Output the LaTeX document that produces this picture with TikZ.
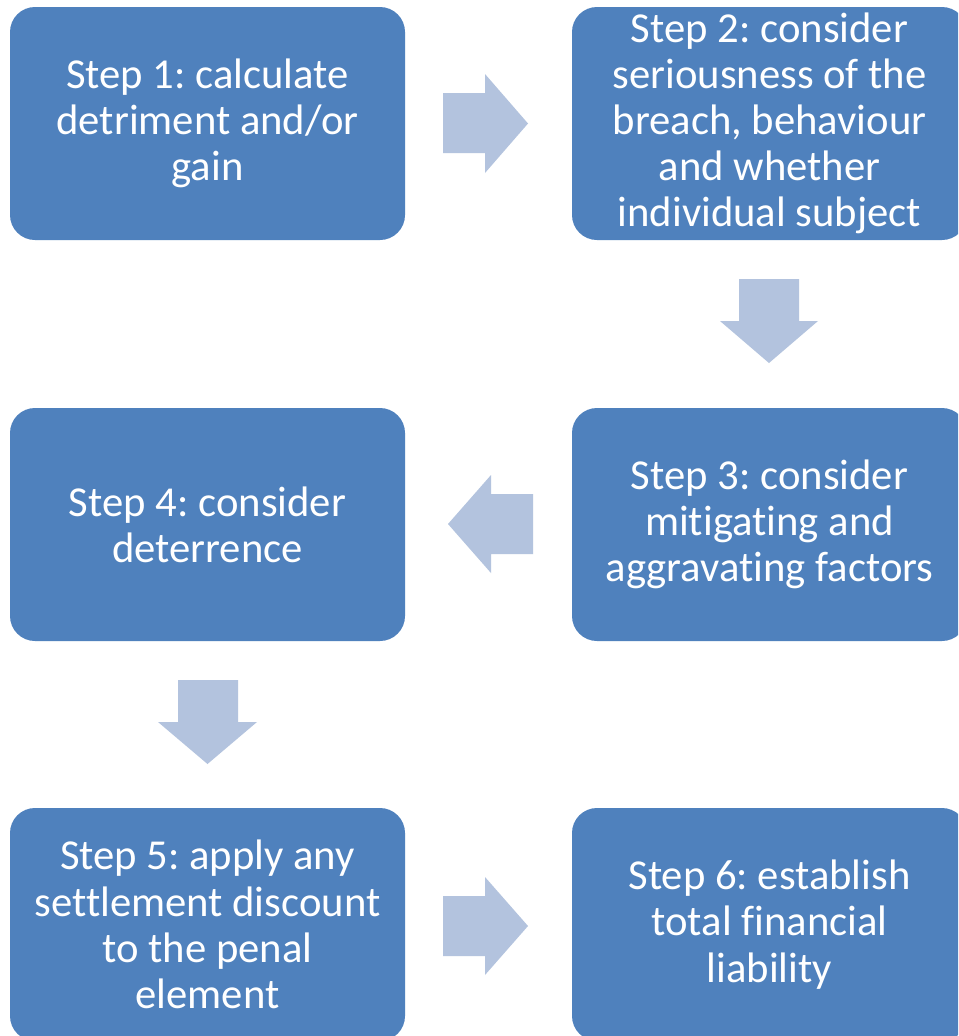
\documentclass[tikz,border=0pt]{standalone}
\usepackage{fontspec}
\setmainfont[Ligatures=NoCommon]{Carlito}
\frenchspacing
\definecolor{boxblue}{HTML}{4F81BD}
\definecolor{arrowblue}{HTML}{B3C3DE}
\begin{document}
\begin{tikzpicture}[x=0.75pt,y=-0.75pt,
  stepbox/.style={fill=boxblue, draw=none, rounded corners=18.75pt,
    minimum width=296.25pt, minimum height=174.75pt, inner sep=0pt,
    text=white, align=center, font=\fontsize{32}{34.6}\selectfont},
  blockarrow/.style={fill=arrowblue, draw=none}]
\useasboundingbox (0,0) rectangle (958,1036);
\clip (0,0) rectangle (958,1036);
\fill[white] (0,0) rectangle (958,1036);
\node[stepbox] (s1) at (207.5,123.5) {Step 1: calculate\\detriment and/or\\gain};
\node[stepbox] (s2) at (769.5,123.5) {Step 2: consider\\seriousness of the\\breach, behaviour\\and whether\\individual subject};
\node[stepbox] (s3) at (769.5,524.5) {Step 3: consider\\mitigating and\\aggravating factors};
\node[stepbox] (s4) at (207.5,524.5) {Step 4: consider\\deterrence};
\node[stepbox] (s5) at (207.5,924.5) {Step 5: apply any\\settlement discount\\to the penal\\element};
\node[stepbox] (s6) at (769.5,924.5) {Step 6: establish\\total financial\\liability};
% right arrow 1 -> 2
\fill[blockarrow] (443,93) -- (485,93) -- (485,74) -- (528,123.5) -- (485,173) -- (485,153) -- (443,153) -- cycle;
% down arrow 2 -> 3
\fill[blockarrow] (739,279) -- (799,279) -- (799,321) -- (818,321) -- (769,363) -- (720,321) -- (739,321) -- cycle;
% left arrow 3 -> 4
\fill[blockarrow] (533,494) -- (491,494) -- (491,475) -- (448,524) -- (491,573) -- (491,554) -- (533,554) -- cycle;
% down arrow 4 -> 5
\fill[blockarrow] (178,680) -- (238,680) -- (238,722) -- (257,722) -- (207.5,764) -- (158,722) -- (178,722) -- cycle;
% right arrow 5 -> 6
\fill[blockarrow] (443,896) -- (485,896) -- (485,877) -- (528,926) -- (485,975) -- (485,956) -- (443,956) -- cycle;
\end{tikzpicture}
\end{document}
